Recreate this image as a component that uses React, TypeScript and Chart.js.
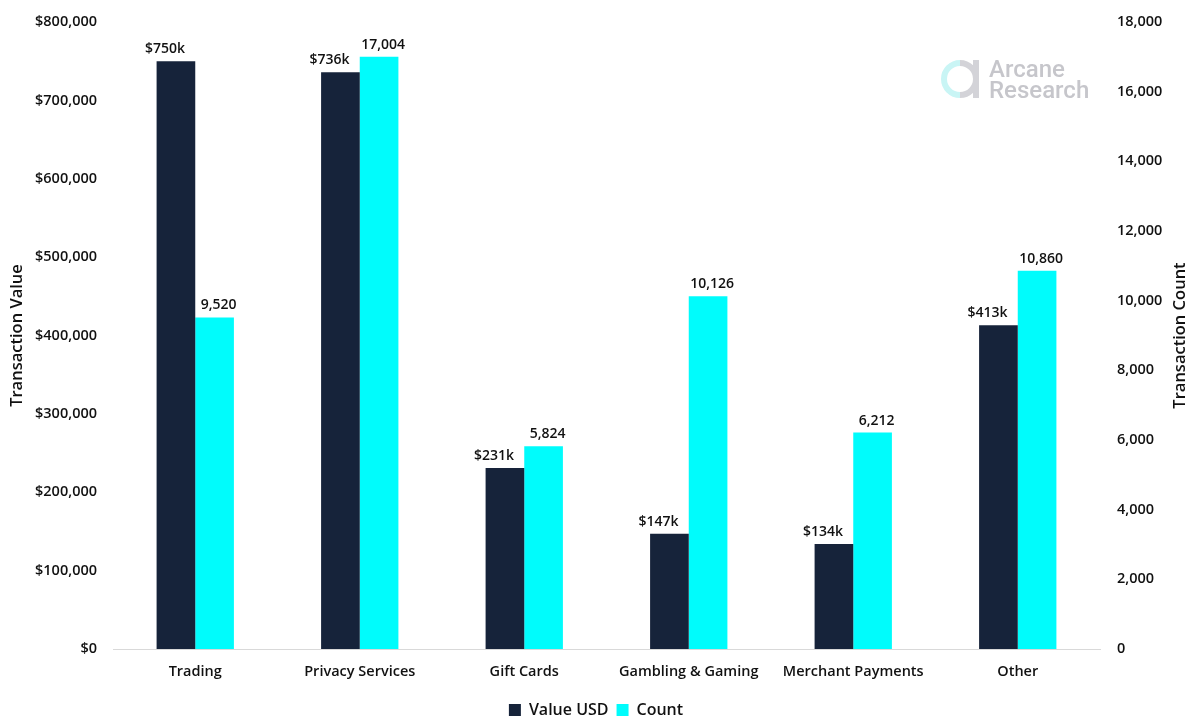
import React, { useEffect, useRef } from "react";
import { Chart, registerables } from "chart.js";

Chart.register(...registerables);

const categories = ["Trading", "Privacy Services", "Gift Cards", "Gambling & Gaming", "Merchant Payments", "Other"];
const valueUsd = [750000, 736000, 231000, 147000, 134000, 413000];
const counts = [9520, 17004, 5824, 10126, 6212, 10860];
const valueLabels = ["$750k", "$736k", "$231k", "$147k", "$134k", "$413k"];
const countLabels = ["9,520", "17,004", "5,824", "10,126", "6,212", "10,860"];
const leftTitle = "Transaction Value";
const rightTitle = "Transaction Count";

const FONT = "'Open Sans', 'Noto Sans', sans-serif";
const DARK = "#16233a";
const CYAN = "#00fcfc";

const dataLabelPlugin = {
  id: "dataLabels",
  afterDatasetsDraw(chart: any) {
    const ctx = chart.ctx;
    ctx.save();
    ctx.font = `600 14px ${FONT}`;
    ctx.fillStyle = "#111";
    ctx.textAlign = "center";
    ctx.textBaseline = "alphabetic";
    chart.data.datasets.forEach((ds: any, di: number) => {
      const meta = chart.getDatasetMeta(di);
      const labels = di === 0 ? valueLabels : countLabels;
      const dx = di === 0 ? -11 : 4;
      meta.data.forEach((bar: any, i: number) => {
        ctx.fillText(labels[i], bar.x + dx, bar.y - 8);
      });
    });
    ctx.restore();
  },
};

const rightTitlePlugin = {
  id: "rightTitle",
  afterDraw(chart: any) {
    const ctx = chart.ctx;
    const area = chart.chartArea;
    ctx.save();
    ctx.translate(1180, (area.top + area.bottom) / 2);
    ctx.rotate(-Math.PI / 2);
    ctx.font = `600 16.5px ${FONT}`;
    ctx.fillStyle = "#111";
    ctx.textAlign = "center";
    ctx.textBaseline = "middle";
    ctx.fillText(rightTitle, 0, 0);
    ctx.restore();
  },
};

const logoPlugin = {
  id: "logo",
  afterDraw(chart: any) {
    const ctx = chart.ctx;
    ctx.save();
    const cx = 960, cy = 79, r = 16;
    ctx.lineWidth = 6;
    ctx.strokeStyle = "#c9f5f5";
    ctx.beginPath();
    ctx.arc(cx, cy, r, Math.PI / 2, Math.PI * 1.5);
    ctx.stroke();
    ctx.strokeStyle = "#d3d3d8";
    ctx.beginPath();
    ctx.arc(cx, cy, r, Math.PI * 1.5, Math.PI / 2);
    ctx.stroke();
    ctx.fillStyle = "#d3d3d8";
    ctx.fillRect(cx + r - 3, cy - r - 3, 6, 2 * r + 6);
    ctx.fillStyle = "#c6c6cb";
    ctx.font = `500 24px 'Roboto', 'Liberation Sans', sans-serif`;
    ctx.textAlign = "left";
    ctx.textBaseline = "alphabetic";
    ctx.fillText("Arcane", 989, 77);
    ctx.fillText("Research", 989, 98);
    ctx.restore();
  },
};

export default function App() {
  const ref = useRef<HTMLCanvasElement>(null);
  useEffect(() => {
    document.body.style.margin = "0";
    const chart = new Chart(ref.current as HTMLCanvasElement, {
      type: "bar",
      data: {
        labels: categories,
        datasets: [
          { label: "Value USD", data: valueUsd, backgroundColor: DARK, yAxisID: "y", categoryPercentage: 0.47, barPercentage: 1 },
          { label: "Count", data: counts, backgroundColor: CYAN, yAxisID: "y1", categoryPercentage: 0.47, barPercentage: 1 },
        ],
      },
      options: {
        responsive: false,
        animation: false,
        layout: { padding: { top: 22, left: 0, right: 0, bottom: -10 } },
        plugins: {
          legend: {
            position: "bottom",
            labels: { boxWidth: 12, boxHeight: 12, color: "#111", font: { family: FONT, size: 16, weight: "600" }, padding: 8 },
          },
          tooltip: { enabled: false },
        },
        scales: {
          x: {
            grid: { display: false, drawTicks: false },
            border: { display: true, color: "#d9d9d9" },
            ticks: { color: "#111", font: { family: FONT, size: 14.5, weight: "600" }, padding: 14 },
            afterFit: (s: any) => { s.height = 45; },
          },
          y: {
            position: "left",
            min: 0,
            max: 800000,
            grid: { display: false, drawTicks: false },
            border: { display: false },
            ticks: {
              stepSize: 100000,
              color: "#111",
              padding: 16,
              font: { family: FONT, size: 14.5, weight: "600" },
              callback: (v: any) => "$" + Number(v).toLocaleString("en-US"),
            },
            title: { display: true, text: leftTitle, color: "#111", font: { family: FONT, size: 16.5, weight: "600" }, padding: { top: 7, bottom: 0 } },
            afterFit: (s: any) => { s.width = 113; s.paddingTop = 0; },
          },
          y1: {
            position: "right",
            min: 0,
            max: 18000,
            grid: { display: false, drawTicks: false },
            border: { display: false },
            ticks: {
              stepSize: 2000,
              color: "#111",
              padding: 17,
              font: { family: FONT, size: 14.5, weight: "600" },
              callback: (v: any) => Number(v).toLocaleString("en-US"),
            },
            afterFit: (s: any) => { s.width = 92; s.paddingTop = 0; },
          },
        },
      },
      plugins: [dataLabelPlugin, rightTitlePlugin, logoPlugin],
    });
    return () => chart.destroy();
  }, []);
  return (
    <div style={{ width: 1192, height: 718, background: "#fff" }}>
      <canvas ref={ref} width={1192} height={718} />
    </div>
  );
}
